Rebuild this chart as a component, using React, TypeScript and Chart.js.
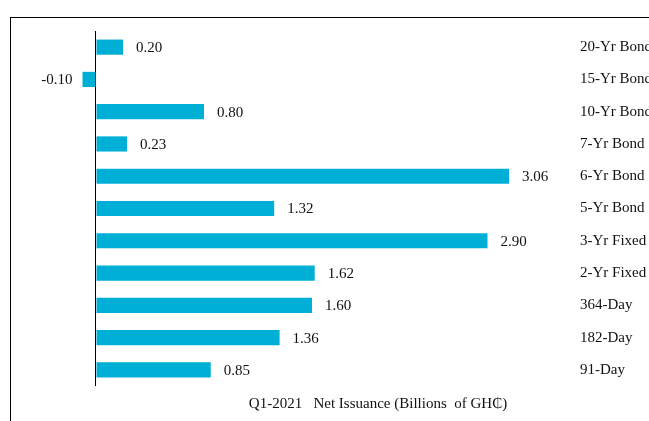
import React, { useEffect, useRef } from 'react';
import { Chart, registerables } from 'chart.js';
Chart.register(...registerables);

const categories = ['20-Yr Bond', '15-Yr Bond', '10-Yr Bond', '7-Yr Bond', '6-Yr Bond', '5-Yr Bond', '3-Yr Fixed', '2-Yr Fixed', '364-Day', '182-Day', '91-Day'];
const netIssuance = [0.20, -0.10, 0.80, 0.23, 3.06, 1.32, 2.90, 1.62, 1.60, 1.36, 0.85];
const axisTitle = 'Q1-2021   Net Issuance (Billions  of GH\u20B5)';

const FONT = "'Liberation Serif', 'Times New Roman', serif";

const valueLabels = {
  id: 'valueLabels',
  afterDatasetsDraw(chart: any) {
    const ctx = chart.ctx;
    const meta = chart.getDatasetMeta(0);
    ctx.save();
    ctx.font = `15px ${FONT}`;
    ctx.fillStyle = '#111';
    ctx.textBaseline = 'middle';
    meta.data.forEach((bar: any, i: number) => {
      const v = netIssuance[i];
      const txt = v.toFixed(2);
      if (v >= 0) {
        ctx.textAlign = 'left';
        ctx.fillText(txt, bar.x + 13, bar.y + 1);
      } else {
        ctx.textAlign = 'right';
        ctx.fillText(txt, bar.x - 10, bar.y + 1);
      }
    });
    ctx.restore();
  },
  afterDraw(chart: any) {
    const ctx = chart.ctx;
    ctx.save();
    ctx.font = `15px ${FONT}`;
    ctx.fillStyle = '#111';
    ctx.textAlign = 'center';
    ctx.textBaseline = 'middle';
    ctx.fillText(axisTitle, 378, 404);
    ctx.restore();
  },
};

export default function App() {
  const ref = useRef<HTMLCanvasElement | null>(null);
  useEffect(() => {
    if (!ref.current) return;
    const chart = new Chart(ref.current, {
      type: 'bar',
      data: {
        labels: categories,
        datasets: [
          {
            data: netIssuance,
            backgroundColor: '#00AFD5',
            borderWidth: 0,
            barPercentage: 0.47,
            categoryPercentage: 1,
          },
        ],
      },
      options: {
        indexAxis: 'y',
        responsive: false,
        animation: false,
        devicePixelRatio: 1,
        layout: { padding: { left: 15, top: 31, right: 0, bottom: 0 } },
        plugins: { legend: { display: false }, tooltip: { enabled: false }, title: { display: false } },
        scales: {
          x: {
            type: 'linear',
            min: -0.6,
            max: 3.526,
            border: { display: false },
            ticks: { display: false },
            grid: {
              drawTicks: false,
              lineWidth: 1,
              color: (c: any) => (c.tick && c.tick.value === 0 ? '#000' : 'rgba(0,0,0,0)'),
            },
            afterBuildTicks: (scale: any) => {
              scale.ticks = [{ value: 0 }];
            },
            afterFit: (scale: any) => {
              scale.height = 35;
            },
          },
          y: {
            position: 'right',
            border: { display: false },
            grid: { display: false, drawTicks: false },
            ticks: {
              padding: 8,
              color: '#111',
              font: { family: FONT, size: 15 },
            },
            afterFit: (scale: any) => {
              scale.width = 77;
            },
          },
        },
      },
      plugins: [valueLabels],
    });
    return () => chart.destroy();
  }, []);
  return (
    <div style={{ position: 'fixed', left: 0, top: 0, width: 649, height: 421, background: '#fff', overflow: 'hidden' }}>
      <div style={{ position: 'absolute', left: 10, top: 17, width: 700, height: 500, border: '1px solid #000', boxSizing: 'border-box' }} />
      <canvas ref={ref} width={649} height={421} style={{ position: 'absolute', left: 0, top: 0 }} />
    </div>
  );
}
